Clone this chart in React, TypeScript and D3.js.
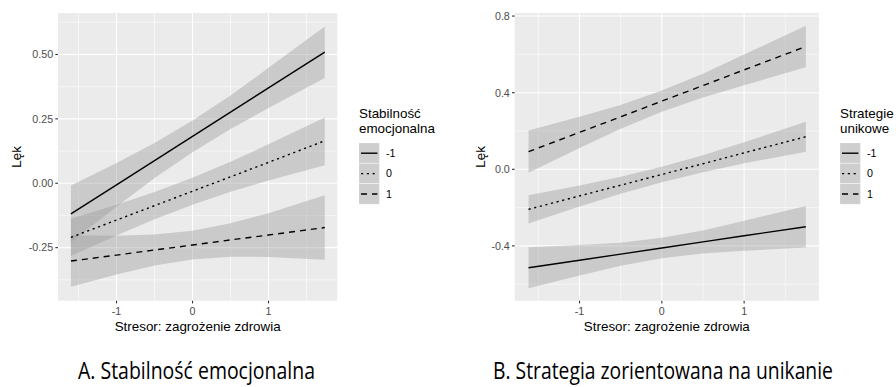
import React, { useLayoutEffect, useRef, useState } from 'react';
import * as d3 from 'd3';

// ---------- data ----------
const levels = ['-1', '0', '1'];

// Panel A: Stabilność emocjonalna
const xsA = [-1.6, -1, -0.5, 0, 0.5, 1, 1.74];
const fitA_m1 = [-0.119, -0.006, 0.088, 0.182, 0.276, 0.37, 0.509];
const lowA_m1 = [-0.229, -0.091, 0.02, 0.12, 0.211, 0.292, 0.409];
const upA_m1 = [-0.009, 0.079, 0.156, 0.244, 0.341, 0.448, 0.609];
const fitA_0 = [-0.21, -0.143, -0.087, -0.031, 0.025, 0.081, 0.165];
const lowA_0 = [-0.282, -0.203, -0.14, -0.083, -0.033, 0.011, 0.07];
const upA_0 = [-0.138, -0.083, -0.034, 0.021, 0.083, 0.151, 0.255];
const fitA_1 = [-0.302, -0.279, -0.259, -0.24, -0.22, -0.201, -0.172];
const lowA_1 = [-0.402, -0.354, -0.319, -0.296, -0.285, -0.286, -0.297];
const upA_1 = [-0.202, -0.204, -0.199, -0.184, -0.155, -0.116, -0.047];

// Panel B: Strategia zorientowana na unikanie
const xsB = [-1.62, -1, -0.5, 0, 0.5, 1, 1.75];
const fitB_m1 = [-0.514, -0.475, -0.443, -0.411, -0.379, -0.347, -0.3];
const lowB_m1 = [-0.621, -0.555, -0.503, -0.465, -0.439, -0.425, -0.408];
const upB_m1 = [-0.407, -0.395, -0.383, -0.357, -0.319, -0.269, -0.192];
const fitB_0 = [-0.209, -0.139, -0.083, -0.027, 0.029, 0.086, 0.17];
const lowB_0 = [-0.283, -0.194, -0.127, -0.067, -0.015, 0.031, 0.092];
const upB_0 = [-0.135, -0.084, -0.039, 0.013, 0.073, 0.141, 0.248];
const fitB_1 = [0.092, 0.193, 0.274, 0.356, 0.437, 0.519, 0.641];
const lowB_1 = [-0.018, 0.111, 0.212, 0.301, 0.375, 0.439, 0.533];
const upB_1 = [0.202, 0.275, 0.336, 0.411, 0.499, 0.599, 0.749];

const xTicks = [-1, 0, 1];
const xTickLabels = ['-1', '0', '1'];
const xMinor = [-1.5, -0.5, 0.5, 1.5];

const yTicksA = [-0.25, 0, 0.25, 0.5];
const yTickLabelsA = ['-0.25', '0.00', '0.25', '0.50'];
const yMinorA = [-0.375, -0.125, 0.125, 0.375, 0.625];

const yTicksB = [-0.4, 0, 0.4, 0.8];
const yTickLabelsB = ['-0.4', '0.0', '0.4', '0.8'];
const yMinorB = [-0.6, -0.2, 0.2, 0.6];

const xTitle = 'Stresor: zagrożenie zdrowia';
const yTitle = 'Lęk';

// ---------- styles ----------
const dashes = ['none', '2.2,3.6', '6,5'];
const PANEL_BG = '#EBEBEB';
const RIBBON = '#999999';
const FONT = "'Liberation Sans', Arial, sans-serif";
const TITLE_FONT = "'Open Sans', 'Noto Sans', sans-serif";
const TICK_SIZE = 10.7;
const AXIS_TITLE_SIZE = 13.4;

type Series = { fit: number[]; low: number[]; up: number[] };

function FitTitle({ x, y, width, text }: { x: number; y: number; width: number; text: string }) {
  const ref = useRef<SVGTextElement>(null);
  const [s, setS] = useState(0.7);
  useLayoutEffect(() => {
    if (ref.current) {
      const w = ref.current.getComputedTextLength();
      if (w > 0) setS(width / w);
    }
  }, [width, text]);
  return (
    <text ref={ref} transform={`translate(${x},${y}) scale(${s},1)`} textAnchor="middle" fontSize={24}
      fontFamily={TITLE_FONT} fontWeight={500} fill="#000">{text}</text>
  );
}

type PanelProps = {
  left: number; right: number; top: number; bottom: number;
  xDomain: [number, number]; yDomain: [number, number];
  xs: number[]; series: Series[];
  yTicks: number[]; yTickLabels: string[]; yMinor: number[];
  yTitleX: number;
  legendX: number; legendTitle: string[];
  title: string; titleX: number; titleWidth: number;
};

function Panel(p: PanelProps) {
  const x = d3.scaleLinear().domain(p.xDomain).range([p.left, p.right]);
  const y = d3.scaleLinear().domain(p.yDomain).range([p.bottom, p.top]);
  const line = d3.line<number>().x((_, i) => x(p.xs[i])).y((d) => y(d));
  const cx = (p.left + p.right) / 2;
  const cy = (p.top + p.bottom) / 2;
  const keySize = 20.4;
  const keyTop = 143;
  return (
    <g>
      <rect x={p.left} y={p.top} width={p.right - p.left} height={p.bottom - p.top} fill={PANEL_BG} />
      {p.yMinor.map((v) => (
        <line key={'ym' + v} x1={p.left} x2={p.right} y1={y(v)} y2={y(v)} stroke="#fff" strokeWidth={0.55} />
      ))}
      {xMinor.map((v) => (
        <line key={'xm' + v} x1={x(v)} x2={x(v)} y1={p.top} y2={p.bottom} stroke="#fff" strokeWidth={0.55} />
      ))}
      {p.yTicks.map((v) => (
        <line key={'yM' + v} x1={p.left} x2={p.right} y1={y(v)} y2={y(v)} stroke="#fff" strokeWidth={1.1} />
      ))}
      {xTicks.map((v) => (
        <line key={'xM' + v} x1={x(v)} x2={x(v)} y1={p.top} y2={p.bottom} stroke="#fff" strokeWidth={1.1} />
      ))}
      {p.series.map((s, k) => {
        const a = d3.area<number>()
          .x((_, i) => x(p.xs[i]))
          .y0((_, i) => y(s.low[i]))
          .y1((_, i) => y(s.up[i]));
        return <path key={'r' + k} d={a(s.fit) || ''} fill={RIBBON} fillOpacity={0.4} />;
      })}
      {p.series.map((s, k) => (
        <path key={'l' + k} d={line(s.fit) || ''} fill="none" stroke="#000" strokeWidth={1.4}
          strokeDasharray={dashes[k]} />
      ))}
      {/* axes */}
      {p.yTicks.map((v, i) => (
        <g key={'yt' + v}>
          <line x1={p.left - 2.7} x2={p.left} y1={y(v)} y2={y(v)} stroke="#333" strokeWidth={1.1} />
          <text x={p.left - 4.9} y={y(v)} dy="0.36em" textAnchor="end" fontSize={TICK_SIZE} fill="#4D4D4D" fontFamily={FONT}>
            {p.yTickLabels[i]}
          </text>
        </g>
      ))}
      {xTicks.map((v, i) => (
        <g key={'xt' + v}>
          <line x1={x(v)} x2={x(v)} y1={p.bottom} y2={p.bottom + 2.7} stroke="#333" strokeWidth={1.1} />
          <text x={x(v)} y={p.bottom + 14.3} textAnchor="middle" fontSize={TICK_SIZE} fill="#4D4D4D" fontFamily={FONT}>
            {xTickLabels[i]}
          </text>
        </g>
      ))}
      <text x={cx} y={330.5} textAnchor="middle" fontSize={AXIS_TITLE_SIZE} fontFamily={FONT} fill="#000">{xTitle}</text>
      <text transform={`translate(${p.yTitleX},${cy}) rotate(-90)`} textAnchor="middle" fontSize={AXIS_TITLE_SIZE}
        fontFamily={FONT} fill="#000">{yTitle}</text>
      {/* legend */}
      {p.legendTitle.map((t, i) => (
        <text key={'lt' + i} x={p.legendX} y={118 + i * 15} fontSize={AXIS_TITLE_SIZE} fontFamily={FONT} fill="#000">{t}</text>
      ))}
      {levels.map((lv, i) => {
        const ky = keyTop + i * keySize;
        return (
          <g key={'lk' + lv}>
            <rect x={p.legendX} y={ky} width={keySize} height={keySize} fill="#F2F2F2" stroke="#fff" strokeWidth={1} />
            <rect x={p.legendX} y={ky} width={keySize} height={keySize} fill={RIBBON} fillOpacity={0.4} />
            <line x1={p.legendX + 2} x2={p.legendX + keySize - 2} y1={ky + keySize / 2} y2={ky + keySize / 2}
              stroke="#000" strokeWidth={1.4} strokeDasharray={dashes[i]} />
            <text x={p.legendX + keySize + 6.5} y={ky + keySize / 2} dy="0.36em" fontSize={TICK_SIZE} fontFamily={FONT} fill="#000">{lv}</text>
          </g>
        );
      })}
      <FitTitle x={p.titleX} y={379} width={p.titleWidth} text={p.title} />
    </g>
  );
}

export default function App() {
  const seriesA: Series[] = [
    { fit: fitA_m1, low: lowA_m1, up: upA_m1 },
    { fit: fitA_0, low: lowA_0, up: upA_0 },
    { fit: fitA_1, low: lowA_1, up: upA_1 },
  ];
  const seriesB: Series[] = [
    { fit: fitB_m1, low: lowB_m1, up: upB_m1 },
    { fit: fitB_0, low: lowB_0, up: upB_0 },
    { fit: fitB_1, low: lowB_1, up: upB_1 },
  ];
  return (
    <svg width={896} height={387} style={{ position: 'absolute', left: 0, top: 0, background: '#fff' }}>
      <rect width={896} height={387} fill="#fff" />
      <Panel left={58} right={337.3} top={13} bottom={300.7}
        xDomain={[-1.77, 1.905]} yDomain={[-0.456, 0.661]}
        xs={xsA} series={seriesA}
        yTicks={yTicksA} yTickLabels={yTickLabelsA} yMinor={yMinorA}
        yTitleX={21} legendX={359} legendTitle={['Stabilność', 'emocjonalna']}
        title="A. Stabilność emocjonalna" titleX={196.5} titleWidth={237} />
      <Panel left={514.7} right={819} top={13} bottom={300.7}
        xDomain={[-1.788, 1.91]} yDomain={[-0.686, 0.816]}
        xs={xsB} series={seriesB}
        yTicks={yTicksB} yTickLabels={yTickLabelsB} yMinor={yMinorB}
        yTitleX={485} legendX={840} legendTitle={['Strategie', 'unikowe']}
        title="B. Strategia zorientowana na unikanie" titleX={663} titleWidth={340} />
    </svg>
  );
}
